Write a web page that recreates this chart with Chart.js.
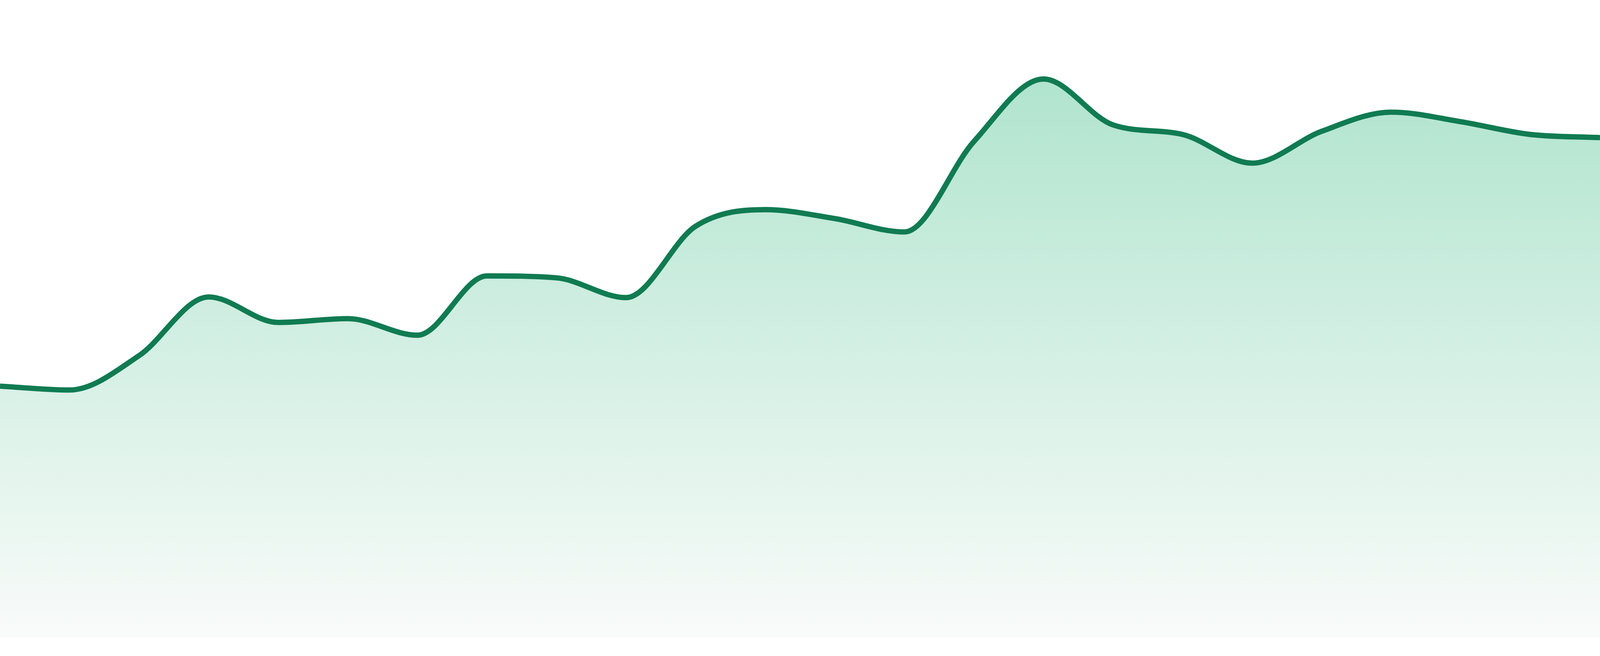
<!DOCTYPE html>
<html>
<head>
<meta charset="utf-8">
<title>Area trend</title>
<script src="https://cdn.jsdelivr.net/npm/chart.js@4.4.1/dist/chart.umd.min.js"></script>
<style>
    html, body { margin: 0; padding: 0; background: #ffffff; overflow: hidden; }
    #wrap { position: relative; width: 100vw; height: 100vh; }
</style>
</head>
<body>
<div id="wrap"><canvas id="trendChart"></canvas></div>
<script>
// Data (24 evenly spaced points, axis 0-100)
const labels = ['1', '2', '3', '4', '5', '6', '7', '8', '9', '10', '11', '12',
                '13', '14', '15', '16', '17', '18', '19', '20', '21', '22', '23', '24'];
const values = [39.4, 38.8, 44.2, 53.4, 49.4, 50.0, 47.4, 56.7, 56.4, 53.3, 64.5, 67.1,
                65.7, 63.6, 77.8, 87.6, 80.4, 78.9, 74.4, 79.4, 82.4, 80.9, 78.9, 78.4];
const yMin = 0;
const yMax = 100;

const lineColor = '#107b52';

// The reference is 4800x1680 device pixels; scale sizes to the real viewport
const unit = window.innerWidth / 4800;

/**
 * Vertical gradient for the area under the line
 */
function areaGradient(context) {
    const chart = context.chart;
    const area = chart.chartArea;
    if (!area) return 'rgb(178, 228, 207)';
    const g = chart.ctx.createLinearGradient(0, area.top, 0, area.bottom);
    g.addColorStop(0, 'rgb(166, 225, 200)');
    g.addColorStop(1, 'rgb(249, 251, 250)');
    return g;
}

const ctx = document.getElementById('trendChart');
const chart = new Chart(ctx, {
    type: 'line',
    data: {
        labels: labels,
        datasets: [{
            data: values,
            borderColor: lineColor,
            borderWidth: 16 * unit,
            backgroundColor: areaGradient,
            fill: 'origin',
            pointRadius: 0,
            pointHoverRadius: 0,
            cubicInterpolationMode: 'monotone'
        }]
    },
    options: {
        responsive: true,
        maintainAspectRatio: false,
        animation: false,
        layout: { padding: { top: 0, right: 0, bottom: 48 * window.innerHeight / 1680, left: 0 } },
        plugins: {
            legend: { display: false },
            tooltip: { enabled: false }
        },
        scales: {
            x: { display: false, offset: false },
            y: { display: false, min: yMin, max: yMax }
        }
    }
});
</script>
</body>
</html>
